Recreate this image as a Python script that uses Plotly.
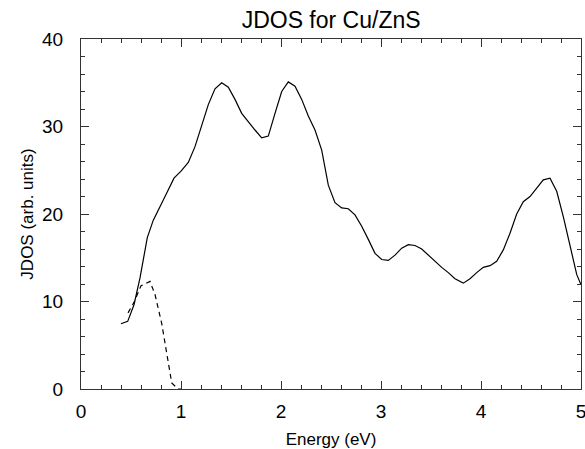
import plotly.graph_objects as go

energy_solid = [0.40, 0.467, 0.53, 0.59, 0.663, 0.723, 0.823, 0.93, 1.0, 1.073, 1.14, 1.207, 1.273,
                1.34, 1.407, 1.473, 1.54, 1.607, 1.673, 1.74, 1.807, 1.873, 1.94, 2.007, 2.073,
                2.14, 2.207, 2.273, 2.34, 2.407, 2.473, 2.54, 2.607, 2.673, 2.74, 2.807, 2.873,
                2.94, 3.007, 3.073, 3.14, 3.207, 3.273, 3.34, 3.407, 3.473, 3.54, 3.607, 3.673,
                3.74, 3.823, 3.89, 3.957, 4.023, 4.09, 4.157, 4.223, 4.29, 4.357, 4.423, 4.49,
                4.557, 4.623, 4.69, 4.757, 4.823, 4.89, 4.957, 5.0]
jdos_solid = [7.46, 7.73, 9.63, 12.7, 17.3, 19.3, 21.6, 24.1, 24.9, 25.9, 27.7, 30.0, 32.5,
              34.3, 35.0, 34.5, 33.1, 31.5, 30.5, 29.6, 28.7, 28.9, 31.5, 34.0, 35.1,
              34.6, 33.1, 31.2, 29.6, 27.3, 23.3, 21.3, 20.7, 20.6, 19.9, 18.6, 17.1,
              15.5, 14.8, 14.7, 15.3, 16.1, 16.5, 16.4, 16.0, 15.3, 14.7, 13.9, 13.3,
              12.6, 12.1, 12.6, 13.3, 13.9, 14.1, 14.6, 15.9, 17.8, 20.0, 21.4, 22.0,
              22.9, 23.9, 24.1, 22.6, 19.7, 16.3, 13.1, 11.9]

energy_dashed = [0.47, 0.53, 0.60, 0.67, 0.69, 0.74, 0.807, 0.857, 0.907, 0.97, 1.0]
jdos_dashed = [8.7, 9.9, 11.8, 12.2, 12.3, 10.8, 7.5, 4.1, 0.7, 0.0, 0.0]

x_ticks = [0, 1, 2, 3, 4, 5]
y_ticks = [0, 10, 20, 30, 40]

FONT = "Liberation Sans, Arial, sans-serif"
AX = "#333333"

fig = go.Figure()
fig.add_trace(go.Scatter(x=energy_solid, y=jdos_solid, mode="lines",
                         line=dict(color="black", width=1.2), showlegend=False))
fig.add_trace(go.Scatter(x=energy_dashed, y=jdos_dashed, mode="lines",
                         line=dict(color="black", width=1.2, dash="5px,4px"), showlegend=False))

axis_common = dict(showgrid=False, zeroline=False, showline=True, linecolor=AX,
                   linewidth=1.2, mirror="ticks", ticks="inside", ticklen=8, tickwidth=1.2,
                   tickcolor=AX, automargin=False, ticklabeloverflow="allow",
                   tickfont=dict(family=FONT, size=19, color="black"))

fig.update_layout(
    width=585, height=449,
    paper_bgcolor="white", plot_bgcolor="white",
    margin=dict(l=81, r=4, t=39, b=60),
    title=dict(text="JDOS for Cu/ZnS", x=0.566, xanchor="center", y=0.955, yanchor="middle",
               font=dict(family=FONT, size=23, color="black")),
    xaxis=dict(range=[0, 5], tickvals=x_ticks, ticktext=[str(v) for v in x_ticks],
               ticklabelstandoff=5,
               minor=dict(dtick=0.2, ticks="inside", ticklen=4, tickcolor=AX, tickwidth=1),
               title=dict(text="Energy (eV)", standoff=14, font=dict(family=FONT, size=17, color="black")),
               **axis_common),
    yaxis=dict(range=[0, 40], tickvals=y_ticks, ticktext=[str(v) for v in y_ticks],
               ticklabelstandoff=13,
               minor=dict(dtick=2, ticks="inside", ticklen=4, tickcolor=AX, tickwidth=1),
               title=dict(text="JDOS (arb. units)", standoff=4, font=dict(family=FONT, size=17, color="black")),
               **axis_common),
)

# remove the default 8px page margin so the figure sits at the window origin
fig.write_html("out.html", config={"displayModeBar": False},
               post_script="document.body.style.margin='0';document.body.style.overflow='hidden';")
